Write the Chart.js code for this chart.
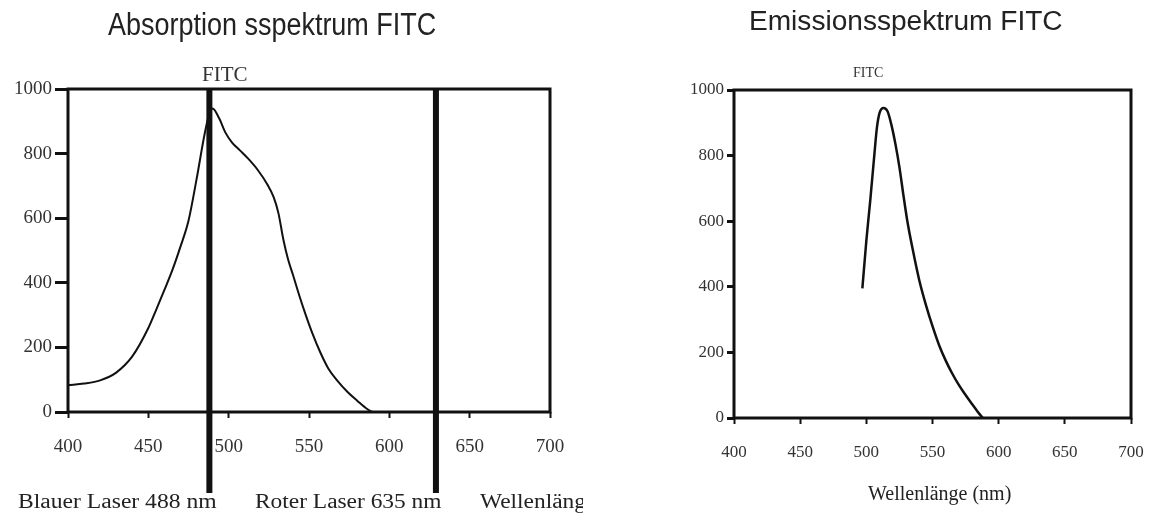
<!DOCTYPE html>
<html>
<head>
<meta charset="utf-8">
<script src="https://cdn.jsdelivr.net/npm/chart.js@4.4.1/dist/chart.umd.min.js"></script>
<style>
  html, body { margin: 0; padding: 0; background: #fff; }
  body { width: 1151px; height: 514px; position: relative; overflow: hidden; }
  .panel { position: absolute; top: 0; height: 514px; overflow: hidden; }
  .txt { position: absolute; white-space: nowrap; line-height: 1; color: #222; transform-origin: 0 0; }
  .sans { font-family: "Liberation Sans", Arial, sans-serif; }
  .serif { font-family: "Liberation Serif", "Times New Roman", serif; }
</style>
</head>
<body>
<div class="panel" id="leftPanel" style="left:0; width:583px;">
  <canvas id="absChart" width="583" height="514"></canvas>
  <div class="txt sans" style="left:108px; top:9px; font-size:31px; transform:scaleX(0.87);">Absorption sspektrum FITC</div>
  <div class="txt serif" style="left:202px; top:64px; font-size:21px; color:#333;">FITC</div>
  <div class="txt serif" style="left:18px; top:491px; font-size:20px; transform:scaleX(1.18);">Blauer Laser 488 nm</div>
  <div class="txt serif" style="left:255px; top:491px; font-size:20px; transform:scaleX(1.17);">Roter Laser 635 nm</div>
  <div class="txt serif" style="left:480px; top:491px; font-size:20px; transform:scaleX(1.17);">Wellenlänge (nm)</div>
</div>
<div class="panel" id="rightPanel" style="left:583px; width:568px;">
  <canvas id="emChart" width="568" height="514"></canvas>
  <div class="txt sans" style="left:166px; top:8px; font-size:27px; transform:scaleX(1.04);">Emissionsspektrum FITC</div>
  <div class="txt serif" style="left:270px; top:66px; font-size:14px; color:#333;">FITC</div>
  <div class="txt serif" style="left:285px; top:483px; font-size:20px;">Wellenlänge (nm)</div>
</div>
<script>
// ---- data ----
const absWavelengths = [400, 410, 420, 430, 440, 450, 455, 460, 465, 470, 475, 480, 485, 488, 490, 494, 498, 502, 507, 512, 518, 524, 528, 531, 534, 537, 540, 544, 548, 552, 557, 562, 568, 574, 580, 586, 590, 595];
const absValues      = [83, 88, 98, 122, 172, 260, 318, 378, 440, 512, 592, 720, 860, 925, 940, 910, 865, 835, 810, 785, 750, 705, 665, 615, 535, 472, 425, 360, 300, 245, 185, 135, 95, 62, 35, 10, 0, 0];
const emWavelengths  = [497, 500, 503, 506, 508, 510, 513, 516, 519, 522, 525, 528, 531, 535, 540, 545, 550, 555, 560, 565, 570, 575, 580, 584, 588];
const emValues       = [395, 540, 665, 800, 885, 930, 945, 935, 893, 835, 765, 680, 600, 515, 420, 345, 280, 222, 175, 135, 100, 70, 42, 20, 0];
const xTickValues = [400, 450, 500, 550, 600, 650, 700];
const yTickValues = [0, 200, 400, 600, 800, 1000];
const laserWavelengths = [488, 629];

function toPoints(xs, ys) { return xs.map((x, i) => ({ x: x, y: ys[i] })); }

const framePlugin = {
  id: 'frame',
  afterDatasetsDraw(chart) {
    const a = chart.chartArea, ctx = chart.ctx;
    ctx.save();
    ctx.strokeStyle = '#111';
    ctx.lineWidth = 3;
    ctx.strokeRect(a.left, a.top, a.right - a.left, a.bottom - a.top);
    ctx.restore();
  }
};

const laserPlugin = {
  id: 'lasers',
  afterDraw(chart, args, opts) {
    if (!opts || !opts.values) return;
    const ctx = chart.ctx, sx = chart.scales.x, a = chart.chartArea;
    ctx.save();
    ctx.fillStyle = '#111';
    opts.values.forEach(v => {
      const px = sx.getPixelForValue(v);
      ctx.fillRect(px - 3, a.top, 6, opts.bottom - a.top);
    });
    ctx.restore();
  }
};

function makeChart(id, xs, ys, cfg) {
  return new Chart(document.getElementById(id), {
    type: 'line',
    data: {
      datasets: [{
        data: toPoints(xs, ys),
        borderColor: '#111',
        borderWidth: cfg.lineWidth,
        pointRadius: 0,
        fill: false,
        cubicInterpolationMode: 'monotone'
      }]
    },
    options: {
      responsive: false,
      animation: false,
      devicePixelRatio: 1,
      layout: { padding: cfg.padding },
      plugins: {
        legend: { display: false },
        tooltip: { enabled: false },
        title: { display: false },
        lasers: cfg.lasers || {}
      },
      scales: {
        x: {
          type: 'linear', min: 400, max: 700,
          afterBuildTicks: s => { s.ticks = xTickValues.map(v => ({ value: v })); },
          afterFit: s => { s.height = cfg.xHeight; s.paddingLeft = 0; s.paddingRight = 0; },
          grid: { display: true, drawOnChartArea: false, drawTicks: true, tickLength: 6, tickWidth: 2, tickColor: '#111' },
          border: { display: false },
          ticks: { autoSkip: false, maxRotation: 0, padding: cfg.xPad, color: '#333',
                   callback: v => String(v),
                   font: { family: '"Liberation Serif", serif', size: cfg.fontSize } }
        },
        y: {
          min: 0, max: 1000,
          afterBuildTicks: s => { s.ticks = yTickValues.map(v => ({ value: v })); },
          afterFit: s => { s.width = cfg.yWidth; s.paddingTop = 0; s.paddingBottom = 0; },
          grid: { display: true, drawOnChartArea: false, drawTicks: true, tickLength: cfg.yTickLen, tickWidth: 3, tickColor: '#111' },
          border: { display: false },
          ticks: { padding: 3, color: '#333',
                   callback: v => String(v),
                   font: { family: '"Liberation Serif", serif', size: cfg.fontSize } }
        }
      }
    },
    plugins: [framePlugin, laserPlugin]
  });
}

makeChart('absChart', absWavelengths, absValues, {
  padding: { top: 89, right: 33, bottom: 0, left: 0 },
  xHeight: 102, yWidth: 68, yTickLen: 13, xPad: 18, fontSize: 19, lineWidth: 2,
  lasers: { values: laserWavelengths, bottom: 493 }
});

makeChart('emChart', emWavelengths, emValues, {
  padding: { top: 90, right: 20, bottom: 0, left: 0 },
  xHeight: 96, yWidth: 151, yTickLen: 7, xPad: 18, fontSize: 17, lineWidth: 2.5
});
</script>
</body>
</html>
